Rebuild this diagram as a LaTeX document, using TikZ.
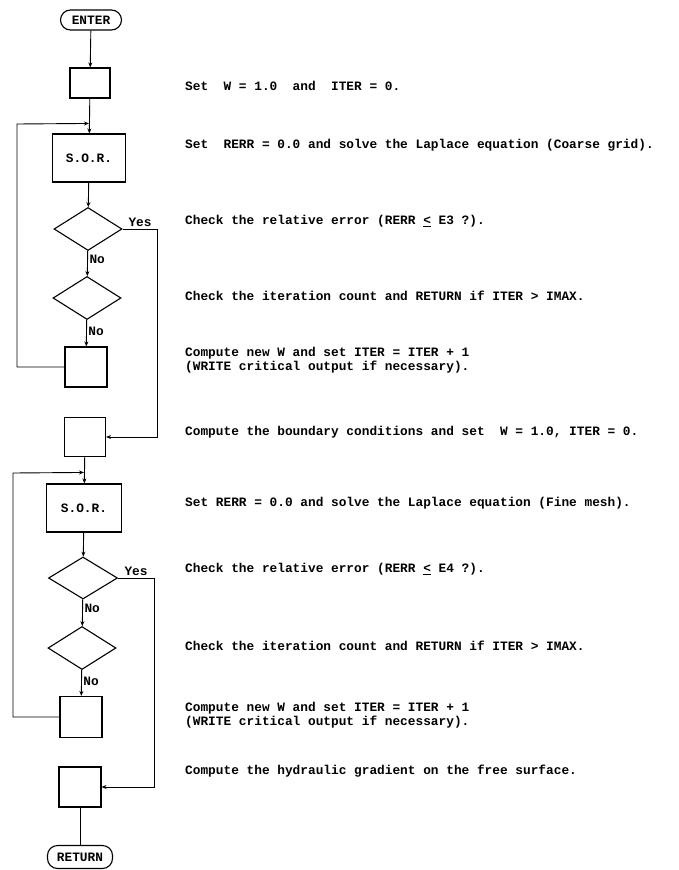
\documentclass[tikz,border=0pt]{standalone}
\usepackage{fontspec}
\usepackage{tikz}
\usetikzlibrary{arrows.meta,positioning,shapes.geometric,calc}
\newfontfamily\typewr{Liberation Mono}
\newcommand{\twfont}{\typewr\bfseries\fontsize{12.8}{14}\selectfont}

\begin{document}
\begin{tikzpicture}[
    x=1pt, y=-1pt,
    box/.style={rectangle, draw, line width=1.1pt, inner sep=0pt,
        font=\twfont},
    term/.style={box, rounded corners=10pt, minimum width=61pt,
        minimum height=20pt},
    test/.style={diamond, draw, line width=1.1pt, inner sep=0pt,
        minimum width=68pt, minimum height=43pt},
    arr/.style={-{Stealth[length=5pt, width=4pt]}, line width=0.9pt},
    wire/.style={line width=0.9pt},
    lbl/.style={font=\twfont, inner sep=1.5pt},
    desc/.style={font=\twfont, anchor=west, inner sep=0pt, align=left},
]
\useasboundingbox (0,0) rectangle (679,870);

% ── Coarse grid ──
\node[term] (enter) at (91,20) {ENTER};
\node[box, minimum width=40pt, minimum height=30pt] (init) at (90,83) {};
\node[box, minimum width=73pt, minimum height=48pt] (sor1) at (89,158)
    {S.O.R.};
\node[test] (err1) at (88,229) {};
\node[test] (cnt1) at (87,298) {};
\node[box, minimum width=42pt, minimum height=40pt] (neww1) at (86,367) {};

% ── Fine mesh ──
\node[box, minimum width=41pt, minimum height=39pt] (bound) at (85,437) {};
\node[box, minimum width=75pt, minimum height=48pt] (sor2) at (84,508)
    {S.O.R.};
\node[test, minimum width=69pt, minimum height=42pt] (err2) at (83,578) {};
\node[test] (cnt2) at (82,648) {};
\node[box, minimum width=42pt, minimum height=41pt] (neww2) at (81,717) {};
\node[box, minimum width=42pt, minimum height=40pt] (grad) at (80,787) {};
\node[term, minimum width=65pt, minimum height=23pt] (ret) at (80,857)
    {RETURN};

% ── Loop corners ──
\coordinate (j1) at ([yshift=10pt]sor1.north);
\coordinate (c1) at (17,124);
\coordinate (j2) at ([yshift=11pt]sor2.north);
\coordinate (c2) at (13,473);

% ── Arrows ──
\draw[arr] (enter) -- (init);
\draw[arr] (init) -- (sor1);
\draw[arr] (sor1) -- (err1);
\draw[arr] (err1) -- (cnt1) node[lbl, pos=0.35, right] {No};
\draw[arr] (cnt1) -- (neww1) node[lbl, pos=0.45, right] {No};
\draw[arr] (neww1.west) -| (c1) -- (j1);
\draw[arr] (err1.east) -- ++(35,0) node[lbl, midway, above] {Yes}
    |- (bound.east);

\draw[arr] (bound) -- (sor2);
\draw[arr] (sor2) -- (err2);
\draw[arr] (err2) -- (cnt2) node[lbl, pos=0.35, right] {No};
\draw[arr] (cnt2) -- (neww2) node[lbl, pos=0.45, right] {No};
\draw[arr] (neww2.west) -| (c2) -- (j2);
\draw[arr] (err2.east) -- ++(36,0) node[lbl, midway, above] {Yes}
    |- (grad.east);
\draw[wire] (grad) -- (ret);

% ── Descriptions (right) ──
\node[desc] (tinit) at (185,86)
    {Set\ \ W = 1.0\ \ and\ \ ITER = 0.};
\node[desc] (tsorc) at (185,145)
    {Set\ \ RERR = 0.0 and solve the Laplace equation (Coarse grid).};
\node[desc] (tchk1) at (185,221)
    {Check the relative error (RERR \underline{<} E3 ?).};
\node[desc] (titer1) at (185,296)
    {Check the iteration count and RETURN if ITER > IMAX.};
\node[desc] (tnew1) at (185,360)
    {Compute new W and set ITER = ITER + 1\\(WRITE critical output if necessary).};
\node[desc] (tbnd) at (185,432)
    {Compute the boundary conditions and set\ \ W = 1.0, ITER = 0.};
\node[desc] (tsorf) at (185,503)
    {Set RERR = 0.0 and solve the Laplace equation (Fine mesh).};
\node[desc] (tchk2) at (185,569)
    {Check the relative error (RERR \underline{<} E4 ?).};
\node[desc] (titer2) at (185,646)
    {Check the iteration count and RETURN if ITER > IMAX.};
\node[desc] (tnew2) at (185,715)
    {Compute new W and set ITER = ITER + 1\\(WRITE critical output if necessary).};
\node[desc] (thyd) at (185,771)
    {Compute the hydraulic gradient on the free surface.};

\end{tikzpicture}
\end{document}
